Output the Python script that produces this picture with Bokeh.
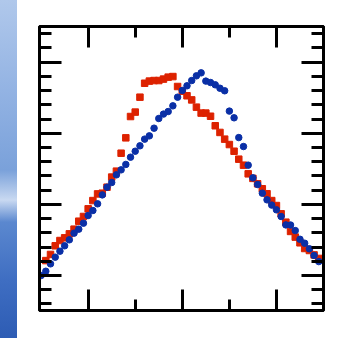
from bokeh.plotting import figure
from bokeh.models import Range1d, LinearAxis, FixedTicker, CustomJSTickFormatter, ColumnDataSource, Div
from bokeh.layouts import row
from bokeh.embed import file_html
from bokeh.resources import INLINE

# ---- data ----
x_blue = [0.0, 0.1, 0.2, 0.3, 0.4, 0.5, 0.6, 0.7, 0.8, 0.9,
          1.0, 1.1, 1.2, 1.3, 1.4, 1.5, 1.6, 1.7, 1.8, 1.9,
          2.0, 2.1, 2.2, 2.3, 2.4, 2.5, 2.6, 2.7, 2.8, 2.9,
          3.0, 3.1, 3.2, 3.3, 3.4, 3.5, 3.6, 3.7, 3.8, 3.9,
          4.0, 4.1, 4.2, 4.3, 4.4, 4.5, 4.6, 4.7, 4.8, 4.9,
          5.0, 5.1, 5.2, 5.3, 5.4, 5.5, 5.6, 5.7, 5.8, 5.9]
y_blue = [0.000, 0.030, 0.082, 0.129, 0.171, 0.209, 0.251, 0.298, 0.326, 0.368,
          0.422, 0.457, 0.504, 0.567, 0.621, 0.654, 0.708, 0.743, 0.781, 0.832,
          0.874, 0.912, 0.959, 0.982, 1.036, 1.104, 1.135, 1.153, 1.193, 1.254,
          1.301, 1.334, 1.371, 1.404, 1.425, 1.367, 1.357, 1.341, 1.317, 1.299,
          1.156, 1.109, 0.970, 0.907, 0.776, 0.687, 0.640, 0.579, 0.532, 0.495,
          0.462, 0.415, 0.356, 0.355, 0.316, 0.255, 0.227, 0.188, 0.141, 0.098]

x_red = [0.1, 0.2, 0.3, 0.4, 0.5, 0.6, 0.7, 0.8, 0.9,
         1.0, 1.1, 1.2, 1.3, 1.4, 1.5, 1.6, 1.7, 1.8, 1.9,
         2.0, 2.1, 2.2, 2.3, 2.4, 2.5, 2.6, 2.7, 2.8, 2.9,
         3.0, 3.1, 3.2, 3.3, 3.4, 3.5, 3.6, 3.7, 3.8, 3.9,
         4.0, 4.1, 4.2, 4.3, 4.4, 4.5, 4.6, 4.7, 4.8, 4.9,
         5.0, 5.1, 5.2, 5.3, 5.4, 5.5, 5.6, 5.7, 5.8, 5.9]
y_red = [0.105, 0.148, 0.209, 0.246, 0.265, 0.293, 0.326, 0.382, 0.415,
         0.469, 0.527, 0.574, 0.579, 0.621, 0.692, 0.734, 0.860, 0.968, 1.118,
         1.149, 1.254, 1.352, 1.367, 1.371, 1.371, 1.381, 1.395, 1.399, 1.329,
         1.296, 1.264, 1.235, 1.184, 1.142, 1.142, 1.120, 1.053, 1.006, 0.959,
         0.921, 0.874, 0.818, 0.776, 0.715, 0.683, 0.645, 0.610, 0.575, 0.527,
         0.492, 0.434, 0.375, 0.310, 0.270, 0.230, 0.190, 0.176, 0.145, 0.120]

x_major = [1, 3, 5]
x_minor = [2, 4]
y_major = [0.0, 0.5, 1.0, 1.5]
y_minor = [-0.2, -0.1, 0.1, 0.2, 0.3, 0.4, 0.6, 0.7, 0.8, 0.9,
           1.1, 1.2, 1.3, 1.4, 1.6, 1.7]

p = figure(width=338, height=338,
           x_range=Range1d(-0.034, 6.0), y_range=Range1d(-0.246, 1.751),
           output_backend="svg", toolbar_location=None,
           min_border_left=22, min_border_right=32,
           min_border_top=26, min_border_bottom=28)
p.margin = 0

p.background_fill_color = "white"
p.border_fill_color = "white"
p.outline_line_color = "black"
p.outline_line_width = 3
p.xgrid.visible = False
p.ygrid.visible = False

p.add_layout(LinearAxis(), "above")
p.add_layout(LinearAxis(), "right")

for ax in p.xaxis:
    ax.ticker = FixedTicker(ticks=x_major, minor_ticks=x_minor)
    ax.major_tick_in = 21
    ax.minor_tick_in = 11
for ax in p.yaxis:
    ax.ticker = FixedTicker(ticks=y_major, minor_ticks=y_minor)
    ax.major_tick_in = 22
    ax.minor_tick_in = 12
for ax in p.axis:
    ax.formatter = CustomJSTickFormatter(code="return ''")
    ax.axis_line_width = 3
    ax.axis_line_color = "black"
    ax.major_tick_line_width = 3
    ax.minor_tick_line_width = 3
    ax.major_tick_line_color = "black"
    ax.minor_tick_line_color = "black"
    ax.major_tick_out = 0
    ax.minor_tick_out = 0
    ax.major_label_standoff = 0
    ax.major_label_text_font_size = "8px"

src_r = ColumnDataSource(dict(x=x_red, y=y_red))
src_b = ColumnDataSource(dict(x=x_blue, y=y_blue))
p.scatter("x", "y", source=src_r, marker="square", size=6.5,
          fill_color="#dd2200", line_color="#dd2200")
p.scatter("x", "y", source=src_b, marker="circle", size=6.5,
          fill_color="#0a2fa6", line_color="#0a2fa6")

# blue backdrop strip at the left edge (decoration of the original slide)
strip = Div(width=17, height=338, margin=0, styles={
    "background": "linear-gradient(to bottom, #b0c8eb 0px, #93b3e3 90px, #7aa1da 170px, "
                  "#c9d9f1 200px, #5b88cf 222px, #3f6ec2 280px, #2d5cb4 338px)"})

layout = row(strip, p, spacing=0)
layout.margin = 0
open("out.html", "w").write(file_html(layout, INLINE))
